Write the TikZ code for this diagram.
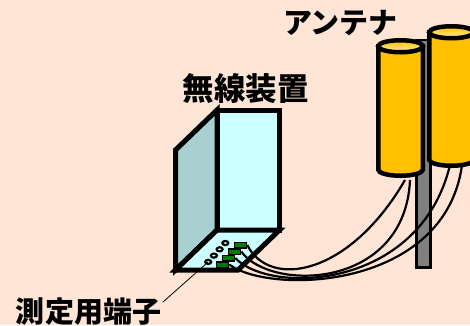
\documentclass[tikz,border=0pt]{standalone}
\usepackage{fontspec}
\newfontfamily\jp{Noto Sans CJK JP}
\usetikzlibrary{positioning}
\definecolor{bg}{HTML}{FFE5D5}
\definecolor{front}{HTML}{CCFFFF}
\definecolor{side}{HTML}{A8D0D0}
\definecolor{gold}{HTML}{FFC000}
\definecolor{pale}{HTML}{FFEE99}
\definecolor{portgreen}{HTML}{007A00}
\tikzset{x=1pt,y=-1pt,
  jptext/.style={font=\jp\bfseries\fontsize{29pt}{29pt}\selectfont,inner sep=0pt},
  panel/.style={draw,line width=5pt},
  port/.style={draw,line width=1.5pt,fill=portgreen,minimum width=12pt,minimum height=5.5pt,inner sep=0pt},
  cable/.style={line width=2.2pt},
  antenna/.style={draw,line width=4.5pt,fill=gold}}

\begin{document}
\begin{tikzpicture}
\fill[bg] (0,0) rectangle (470,325);
\useasboundingbox (0,0) rectangle (470,325);

% labels
\node[jptext] (antenna) at (340.5,23) {アンテナ};
\node[jptext,font=\jp\bfseries\fontsize{31.5pt}{31.5pt}\selectfont] (musen) at (245.5,89) {無線装置};
\node[jptext] (tanshi) at (88.5,312) {測定用端子};

% radio box
\draw[panel,fill=side] (217,110) -- (175.5,150) -- (175.5,270) -- (217,230) -- cycle;
\draw[panel,fill=front] (217,110) rectangle (279.5,230);
\draw[panel,fill=front] (217,230) -- (279.5,230) -- (238,270) -- (175.5,270) -- cycle;

% ports
\foreach \i in {1,...,4}{
  \fill (231-5.7*\i,236.7+6.3*\i) coordinate (hole\i) ellipse (4.2 and 3.2);
  \fill[white] (hole\i) ellipse (1.8 and 0.9);
  \node[port] (port\i) at (246.5-6*\i,238.5+6.5*\i) {};
}
\coordinate (lead) at (163,302);
\draw[line width=0.8pt] (hole4) -- (lead);

% mast
\draw[line width=2.7pt,fill=gray] (416.5,40) rectangle (430.5,267.5);

% antenna feet
\coordinate (a1) at (405,180);
\coordinate (a2) at (410,180);
\coordinate (a3) at (450,165);
\coordinate (a4) at (462,165);

% cables
\draw[cable] (port1.east) .. controls (270,290) and (350,275) .. (a1);
\draw[cable] (port2.east) .. controls (270,292) and (405,290) .. (a2);
\draw[cable] (port3.east) .. controls (270,295) and (420,290) .. (a3);
\draw[cable] (port4.east) .. controls (270,295) and (445,290) .. (a4);

% antennas
\foreach \cx/\ty/\by in {400.5/46.25/169.75, 451.5/32.25/159.75}{
  \draw[antenna] (\cx-22.25,\ty) -- (\cx-22.25,\by) arc (180:0:22.25 and 6) -- (\cx+22.25,\ty) -- cycle;
  \draw[line width=4.5pt,top color=gold,bottom color=pale] (\cx,\ty) ellipse (22.25 and 6);
}
\end{tikzpicture}
\end{document}
